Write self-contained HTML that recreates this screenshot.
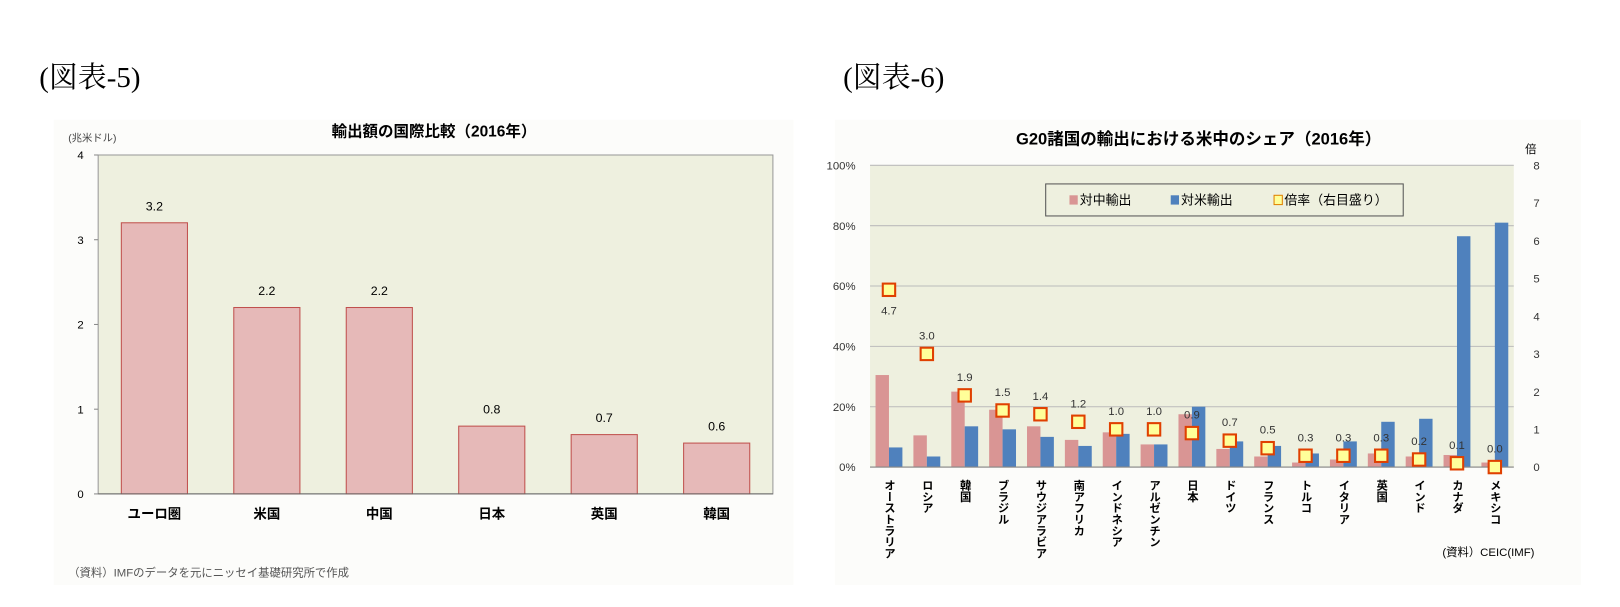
<!DOCTYPE html>
<html><head><meta charset="utf-8"><style>
body{margin:0;background:#fff;width:1620px;height:602px;overflow:hidden}
svg text{font-family:"Liberation Sans","Noto Sans CJK JP",sans-serif}
svg text.serif{font-family:"Liberation Serif","Noto Serif CJK SC",serif}
</style></head><body>
<svg id="s" width="1620" height="602">
<g transform="scale(1.0333)">
<text class="serif" x="38" y="84" font-size="28">(図表-5)</text>
<text class="serif" x="816" y="84" font-size="28">(図表-6)</text>
<rect x="52" y="116" width="716" height="450" fill="#fcfcfa"/>
<rect x="95" y="150" width="653" height="328" fill="#eef0df" stroke="#999"/>
<text x="420" y="132" font-size="15" text-anchor="middle" font-weight="bold">輸出額の国際比較（2016年）</text>
<text x="66" y="137" font-size="10" fill="#444">(兆米ドル)</text>
<text x="66" y="558" font-size="11" fill="#555">（資料）IMFのデータを元にニッセイ基礎研究所で作成</text>
<g id="c1"></g>
<rect x="808" y="116" width="722" height="450" fill="#fcfcfa"/>
<rect x="842" y="160" width="623" height="292" fill="#eef0df"/>
<text x="1160" y="140" font-size="16" text-anchor="middle" font-weight="bold">G20諸国の輸出における米中のシェア（2016年）</text>
<text x="1476" y="148" font-size="11">倍</text>
<text x="1485" y="538" font-size="11" text-anchor="end">(資料）CEIC(IMF)</text>
<g id="c2"></g>
<g>
<rect x="1012" y="178" width="346" height="31" fill="#eef0df" stroke="#555"/>
<rect x="1035" y="189" width="8" height="9" fill="#d99594"/><text x="1045" y="198" font-size="12.5">対中輸出</text>
<rect x="1133" y="189" width="8" height="9" fill="#4f81bd"/><text x="1143" y="198" font-size="12.5">対米輸出</text>
<rect x="1233" y="189" width="8" height="9" fill="#ffff99" stroke="#e08000"/><text x="1243" y="198" font-size="12.5">倍率（右目盛り）</text>
</g>
</g>
</svg>
<script>
const NS='http://www.w3.org/2000/svg';
function mk(p,t,a){const e=document.createElementNS(NS,t);for(const k in a)e.setAttribute(k,a[k]);p.appendChild(e);return e;}
// chart 1
const cats1=['ユーロ圏','米国','中国','日本','英国','韓国'];
const vals1=[3.2,2.2,2.2,0.8,0.7,0.6];
const labels1=['3.2','2.2','2.2','0.8','0.7','0.6'];
const ticks1=[0,1,2,3,4];
const g1=document.getElementById('c1');
const x0=95,x1=748,yb=478,yt=150;
const y1=v=>yb-(yb-yt)*v/4;
const bw1=(x1-x0)/cats1.length;
ticks1.forEach(t=>{const e=mk(g1,'text',{x:x0-14,y:y1(t)+4,'font-size':11,'text-anchor':'end'});e.textContent=t;


mk(g1,'line',{x1:x0-4,x2:x0,y1:y1(t),y2:y1(t),stroke:'#888'});});
cats1.forEach((c,i)=>{const cx=x0+bw1*(i+0.5);
const r=mk(g1,'rect',{x:cx-32,y:y1(vals1[i]),width:64,height:yb-y1(vals1[i]),fill:'#e6b9b8',stroke:'#c0504d'});


const l=mk(g1,'text',{x:cx,y:y1(vals1[i])-12,'font-size':12,'text-anchor':'middle'});l.textContent=labels1[i];


const t=mk(g1,'text',{x:cx,y:yb+24,'font-size':13,'text-anchor':'middle','font-weight':'bold'});t.textContent=c;

});
mk(g1,'line',{x1:x0,x2:x1,y1:yb,y2:yb,stroke:'#666'});
// chart 2
const cats2=['オーストラリア','ロシア','韓国','ブラジル','サウジアラビア','南アフリカ','インドネシア','アルゼンチン','日本','ドイツ','フランス','トルコ','イタリア','英国','インド','カナダ','メキシコ'];
const china2=[30.5,10.5,25,19,13.5,9,11.5,7.5,17.5,6,3.5,1.5,2.5,4.5,3.5,4,1.5];
const us2=[6.5,3.5,13.5,12.5,10,7,11,7.5,20,8.5,7,4.5,8.5,15,16,76.5,81];
const ratio2=[4.7,3.0,1.9,1.5,1.4,1.2,1.0,1.0,0.9,0.7,0.5,0.3,0.3,0.3,0.2,0.1,0.0];
const leftTicks=[0,20,40,60,80,100];
const rightTicks=[0,1,2,3,4,5,6,7,8];
const g2=document.getElementById('c2');
const X0=842,X1=1465,YB=452,YT=160;
const yl=v=>YB-(YB-YT)*v/100, yr=v=>YB-(YB-YT)*v/8;
const bw2=(X1-X0)/cats2.length;
leftTicks.forEach(t=>{mk(g2,'line',{x1:X0,x2:X1,y1:yl(t),y2:yl(t),stroke:'#bbb'});
const e=mk(g2,'text',{x:X0-14,y:yl(t)+4,'font-size':11,fill:'#333','text-anchor':'end'});e.textContent=t+'%';

});
rightTicks.forEach(t=>{const e=mk(g2,'text',{x:X1+19,y:yr(t)+4,'font-size':11,fill:'#333'});e.textContent=t;

});
cats2.forEach((c,i)=>{const cx=X0+bw2*(i+0.5);
const a=mk(g2,'rect',{x:cx-13,y:yl(china2[i]),width:13,height:YB-yl(china2[i]),fill:'#d99594'});


const b=mk(g2,'rect',{x:cx,y:yl(us2[i]),width:13,height:YB-yl(us2[i]),fill:'#4f81bd'});


const t=mk(g2,'text',{x:cx,y:YB+12,'font-size':11,'writing-mode':'tb','glyph-orientation-vertical':0,'font-weight':'bold'});t.textContent=c;

});
mk(g2,'line',{x1:X0,x2:X1,y1:YB,y2:YB,stroke:'#888'});
cats2.forEach((c,i)=>{const cx=X0+bw2*(i+0.5);const y=yr(ratio2[i]);
const m=mk(g2,'rect',{x:cx-6,y:y-6,width:12,height:12,fill:'#ffff99',stroke:'#e04000','stroke-width':2});


const l=mk(g2,'text',{x:cx,y:i==0?y+24:y-14,'font-size':11,fill:'#333','text-anchor':'middle'});l.textContent=ratio2[i].toFixed(1);

});
</script>
</body></html>
